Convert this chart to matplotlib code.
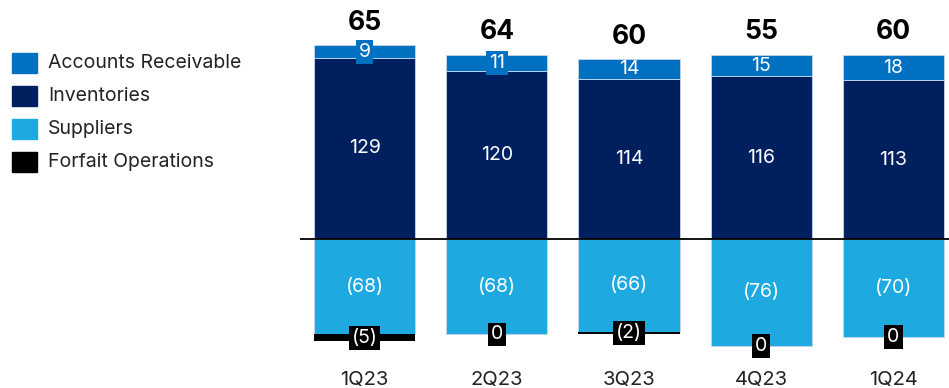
import matplotlib.pyplot as plt
from matplotlib.patches import Rectangle

plt.rcParams['font.family'] = ['Inter', 'DejaVu Sans']

quarters = ['1Q23', '2Q23', '3Q23', '4Q23', '1Q24']
inventories = [129, 120, 114, 116, 113]
receivables = [9, 11, 14, 15, 18]
suppliers = [-68, -68, -66, -76, -70]
forfait = [-5, 0, -2, 0, 0]
totals = [65, 64, 60, 55, 60]

series_names = ['Accounts Receivable', 'Inventories', 'Suppliers', 'Forfait Operations']
c_ar = '#0070C0'
c_inv = '#001F5F'
c_sup = '#1EA9E1'
c_ff = '#000000'
colors = [c_ar, c_inv, c_sup, c_ff]

fig = plt.figure(figsize=(9.49, 3.88), dpi=100)
ax = fig.add_axes([300 / 949, 28 / 388, 649 / 949, 360 / 388])

x = range(len(quarters))
w = 0.764
ec = '#c8d8ec'
ax.bar(x, inventories, w, color=c_inv, edgecolor=ec, linewidth=0.6)
ax.bar(x, receivables, w, bottom=inventories, color=c_ar, edgecolor=ec, linewidth=0.6)
ax.bar(x, suppliers, w, color=c_sup, edgecolor=ec, linewidth=0.6)
ax.bar(x, forfait, w, bottom=suppliers, color=c_ff, linewidth=0)

ax.axhline(0, color='black', linewidth=1.3)

for i in x:
    ax.text(i, inventories[i] / 2, str(inventories[i]), ha='center', va='center',
            color='white', fontsize=14)
    # small segments get a label box in the segment colour
    box = dict(boxstyle='square,pad=0.15', fc=c_ar, ec='none') if receivables[i] < 12 else None
    ax.text(i, inventories[i] + receivables[i] / 2, str(receivables[i]), ha='center',
            va='center', color='white', fontsize=14, bbox=box)
    ax.text(i, suppliers[i] / 2, '(%d)' % -suppliers[i], ha='center', va='center',
            color='white', fontsize=14)
    ff = '0' if forfait[i] == 0 else '(%d)' % -forfait[i]
    ax.text(i, suppliers[i] + forfait[i] / 2, ff, ha='center', va='center',
            color='white', fontsize=14,
            bbox=dict(boxstyle='square,pad=0.15', fc=c_ff, ec='none'))
    ax.annotate(str(totals[i]), (i, inventories[i] + receivables[i]),
                xytext=(0, 7), textcoords='offset points', ha='center', va='bottom',
                fontsize=19, fontweight='bold', color='black')

ax.set_xlim(-0.488, 4.42)
ax.set_ylim(-86.2, 170.3)
ax.set_xticks(list(x))
ax.set_xticklabels(quarters, fontsize=14.5, color='#222222')
ax.tick_params(axis='x', length=0, pad=8)
ax.set_yticks([])
for s in ax.spines.values():
    s.set_visible(False)

# legend
for k, (name, col) in enumerate(zip(series_names, colors)):
    yc = 63 + k * 33
    fig.patches.append(Rectangle((12 / 949, 1 - (yc + 10) / 388), 25 / 949, 20 / 388,
                                 transform=fig.transFigure, color=col))
    fig.text(48 / 949, 1 - yc / 388, name, va='center', ha='left', fontsize=14,
             color='#222222')

fig.savefig('out.png', dpi=100)
